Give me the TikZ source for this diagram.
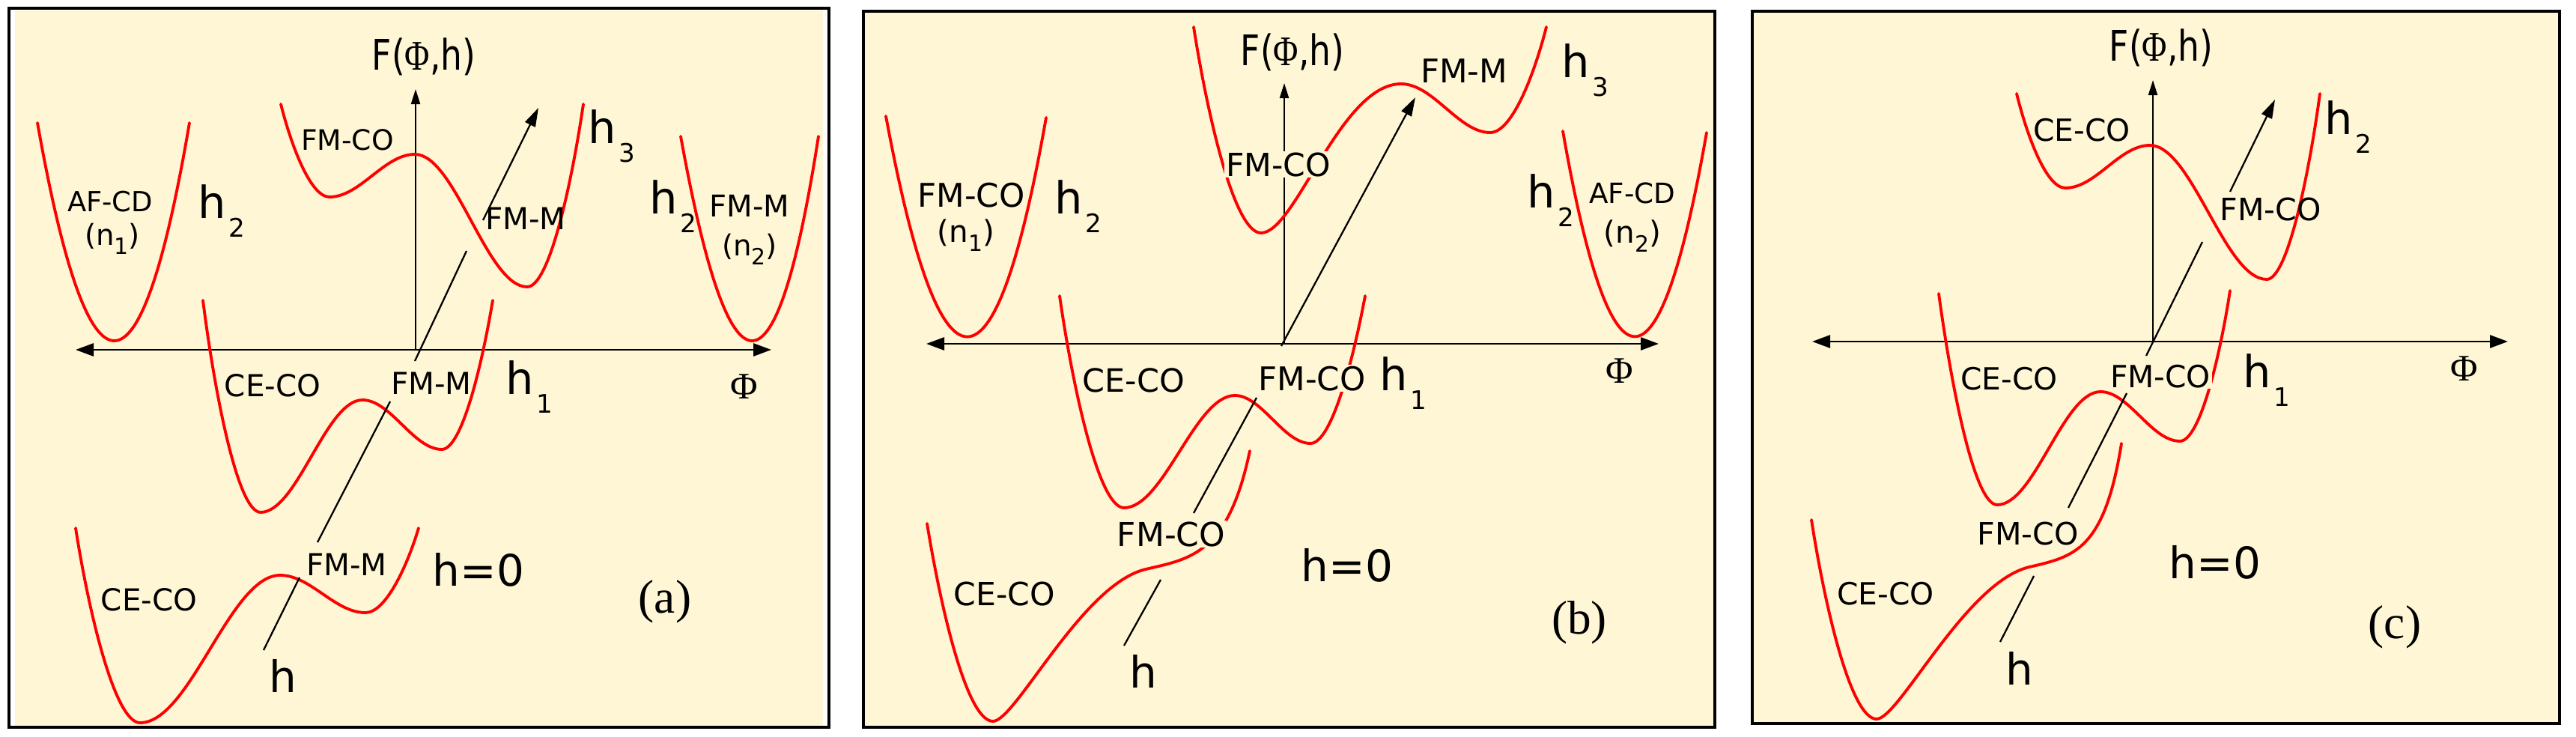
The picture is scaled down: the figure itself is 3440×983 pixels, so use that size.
\documentclass[tikz,border=0pt]{standalone}
\usepackage{fontspec}
\newfontfamily\lab{DejaVu Sans}
\newfontfamily\ser{Liberation Serif}
\usetikzlibrary{arrows.meta}
\definecolor{cream}{RGB}{255,246,213}
\definecolor{wellred}{RGB}{255,0,0}
\tikzset{
 frame/.style={draw=black, line width=0.4mm},
 well/.style={draw=wellred, line width=1.1pt, line cap=round},
 axis/.style={draw=black, line width=0.8pt, {Triangle[length=2.4mm,width=1.7mm]}-{Triangle[length=2.4mm,width=1.7mm]}},
 vaxis/.style={draw=black, line width=0.6pt, -{Triangle[length=2mm,width=1.2mm]}},
 hline/.style={draw=black, line width=0.65pt},
 harrow/.style={hline, -{Triangle[length=2.5mm,width=1.5mm]}},
 lbl/.style={font=\lab\fontsize{#1}{14}\selectfont, inner sep=0, anchor=base},
 lbl/.default=11.5,
 mask/.style={fill=cream, inner sep=0.5pt},
 hl/.style={font=\lab\fontsize{16.8}{18}\selectfont, inner sep=0, anchor=base west},
 big/.style={font=\lab\fontsize{16.5}{18}\selectfont, inner sep=0, anchor=base west},
 tag/.style={font=\ser\fontsize{18}{20}\selectfont, inner sep=0, anchor=base},
 phi/.style={font=\ser\fontsize{14.2}{15}\selectfont, inner sep=0, anchor=base},
 ftit/.style={font=\lab\fontsize{16}{18}\selectfont, inner sep=0, anchor=base},
}
\newcommand\hs[1]{h\kern0.3mm\raisebox{-2.5mm}{\fontsize{9.7}{10}\selectfont #1}}
\newcommand\nsub[1]{(n\raisebox{-1.2mm}{\fontsize{8.5}{9}\selectfont #1})}
\newcommand\ftitle{\scalebox{0.81}[1]{F({\ser Φ},h)}}
\begin{document}
\begin{tikzpicture}[x=0.1mm, y=-0.1mm]
\useasboundingbox (0,0) rectangle (3440,983);
% ---------- frames
\fill[white] (0,0) rectangle (3440,983);
\fill[cream] (20,14) rectangle (1099,969);
\draw[frame] (12,11) rectangle (1107,971);
\draw[frame, fill=cream] (1153,15) rectangle (2290,971);
\draw[frame, fill=cream] (2340,15) rectangle (3418,966);

% ================= panel (a)
\coordinate (aL) at (101,467); \coordinate (aR) at (1030,467);
\coordinate (aO) at (555,467); \coordinate (aT) at (555,119);
\draw[axis] (aL) -- (aR);
\draw[vaxis] (aO) -- (aT);
\draw[well] (50,164) .. controls (119,552) and (187,552) .. (253,164);
\draw[well] (909,182) .. controls (975,546) and (1036,546) .. (1093,182);
\draw[well] (375,139) .. controls (388,191) and (414,263) .. (440,263)
  .. controls (481,263) and (513,206) .. (554,206)
  .. controls (608,206) and (650,383) .. (704,383)
  .. controls (734,383) and (764,241) .. (779,139);
\draw[well] (271,401) .. controls (286,520) and (317,684) .. (348,684)
  .. controls (397,684) and (435,534) .. (484,534)
  .. controls (522,534) and (552,600) .. (590,600)
  .. controls (617,600) and (644,485) .. (658,401);
\draw[well] (101,705) .. controls (118,814) and (153,965) .. (187,965)
  .. controls (254,965) and (307,768) .. (374,768)
  .. controls (415,768) and (447,818) .. (488,818)
  .. controls (516,818) and (545,752) .. (559,705);
\coordinate (a1) at (352,868); \coordinate (a2) at (400,771);
\coordinate (a3) at (424,724); \coordinate (a4) at (521,536);
\coordinate (a5) at (554,482); \coordinate (a6) at (623,335);
\coordinate (a7) at (645,294); \coordinate (a8) at (719,144);
\draw[hline] (a1) -- (a2);
\draw[hline] (a3) -- (a4);
\draw[hline] (a5) -- (a6);
\draw[harrow] (a7) -- (a8);
\node[ftit] (aF) at (566,93) {\ftitle};
\node[lbl=10.7] (aFMCO) at (464,200) {FM-CO};
\node[lbl=10.5] (aAF) at (147,282) {AF-CD};
\node[lbl=11] (an1) at (150,327) {\nsub{1}};
\node[hl] (ah2l) at (264,291) {\hs{2}};
\node[hl] (ah3) at (785,191) {\hs{3}};
\node[lbl] (aFMM1) at (702,306) {FM-M};
\node[hl] (ah2r) at (867,285) {\hs{2}};
\node[lbl=11.4] (aFMM2) at (1001,289) {FM-M};
\node[lbl=11] (an2) at (1001,341) {\nsub{2}};
\node[lbl] (aCE1) at (364,529) {CE-CO};
\node[lbl] (aFMM3) at (576,526) {FM-M};
\node[hl] (ah1) at (675,526) {\hs{1}};
\node[phi] (aPhi) at (994,532) {Φ};
\node[lbl] (aCE2) at (199,815) {CE-CO};
\node[lbl] (aFMM4) at (463,768) {FM-M};
\node[big] (ah0) at (577,782) {h=0};
\node[tag] (atag) at (888,818) {(a)};
\node[big] (ah) at (359,924) {h};

% ================= panel (b)
\coordinate (bL) at (1237,459); \coordinate (bR) at (2215,459);
\coordinate (bO) at (1715,459); \coordinate (bT) at (1715,111);
\draw[axis] (bL) -- (bR);
\draw[vaxis] (bO) -- (bT);
\draw[well] (1183,155) .. controls (1256,547) and (1328,548) .. (1397,157);
\draw[well] (2087,175) .. controls (2151,540) and (2215,541) .. (2279,177);
\draw[well] (1594,36) .. controls (1612,151) and (1648,311) .. (1684,311)
  .. controls (1730,311) and (1790,112) .. (1871,112)
  .. controls (1914,112) and (1948,177) .. (1990,177)
  .. controls (2020,177) and (2050,95) .. (2065,36);
\draw[well] (1415,395) .. controls (1432,514) and (1467,678) .. (1501,678)
  .. controls (1554,678) and (1596,528) .. (1649,528)
  .. controls (1685,528) and (1714,592) .. (1750,592)
  .. controls (1779,592) and (1808,475) .. (1823,395);
\draw[well] (1238,699) .. controls (1256,810) and (1291,963) .. (1326,963)
  .. controls (1356,963) and (1445,780) .. (1530,760)
  .. controls (1590,746) and (1640,740) .. (1669,602);
\coordinate (b1) at (1501,862); \coordinate (b2) at (1550,774);
\coordinate (b3) at (1594,685); \coordinate (b4) at (1678,531);
\coordinate (b5) at (1711,462); \coordinate (b6) at (1890,130);
\draw[hline] (b1) -- (b2);
\draw[hline] (b3) -- (b4);
\draw[harrow] (b5) -- (b6);
\node[ftit] (bF) at (1726,87) {\ftitle};
\node[lbl=12.4] (bFMCOl) at (1297,276) {FM-CO};
\node[lbl=11.5] (bn1) at (1290,323) {\nsub{1}};
\node[hl] (bh2l) at (1408,285) {\hs{2}};
\node[lbl=12.1, mask] (bFMCOt) at (1707,235) {FM-CO};
\node[lbl=12.4] (bFMM) at (1955,110) {FM-M};
\node[hl] (bh3) at (2085,103) {\hs{3}};
\node[hl] (bh2r) at (2039,277) {\hs{2}};
\node[lbl=10.6] (bAF) at (2180,271) {AF-CD};
\node[lbl=11.5] (bn2) at (2180,324) {\nsub{2}};
\node[lbl=12.2] (bCE1) at (1514,523) {CE-CO};
\node[lbl=12.4, mask] (bFMCOm) at (1752,521) {FM-CO};
\node[hl] (bh1) at (1842,521) {\hs{1}};
\node[phi] (bPhi) at (2163,511) {Φ};
\node[lbl=12.5, mask] (bFMCOb) at (1564,729) {FM-CO};
\node[lbl=12.1] (bCE2) at (1341,808) {CE-CO};
\node[big] (bh0) at (1737,776) {h=0};
\node[tag] (btag) at (2109,846) {(b)};
\node[big] (bh) at (1508,918) {h};

% ================= panel (c)
\coordinate (cL) at (2420,456); \coordinate (cR) at (3349,456);
\coordinate (cO) at (2875,456); \coordinate (cT) at (2875,107);
\draw[axis] (cL) -- (cR);
\draw[vaxis] (cO) -- (cT);
\draw[well] (2693,125) .. controls (2706,178) and (2732,251) .. (2758,251)
  .. controls (2799,251) and (2830,194) .. (2871,194)
  .. controls (2927,194) and (2971,373) .. (3027,373)
  .. controls (3055,373) and (3084,229) .. (3098,125);
\draw[well] (2589,392) .. controls (2605,510) and (2636,674) .. (2667,674)
  .. controls (2717,674) and (2755,523) .. (2805,523)
  .. controls (2843,523) and (2873,589) .. (2911,589)
  .. controls (2938,589) and (2965,473) .. (2978,388);
\draw[well] (2419,694) .. controls (2436,804) and (2471,960) .. (2506,960)
  .. controls (2536,960) and (2625,777) .. (2710,757)
  .. controls (2770,743) and (2810,735) .. (2833,592);
\coordinate (c1) at (2671,857); \coordinate (c2) at (2716,769);
\coordinate (c3) at (2762,678); \coordinate (c4) at (2840,525);
\coordinate (c5) at (2866,475); \coordinate (c6) at (2941,323);
\coordinate (c7) at (2978,256); \coordinate (c8) at (3038,133);
\draw[hline] (c1) -- (c2);
\draw[hline] (c3) -- (c4);
\draw[hline] (c5) -- (c6);
\draw[harrow] (c7) -- (c8);
\node[ftit] (cF) at (2886,81) {\ftitle};
\node[lbl=11.6] (cCE1) at (2780,188) {CE-CO};
\node[hl] (ch2) at (3104,179) {\hs{2}};
\node[lbl=11.7] (cFMCOt) at (3032,294) {FM-CO};
\node[lbl=11.6] (cCE2) at (2683,520) {CE-CO};
\node[lbl=11.6, mask] (cFMCOm) at (2885,517) {FM-CO};
\node[hl] (ch1) at (2995,517) {\hs{1}};
\node[phi] (cPhi) at (3291,508) {Φ};
\node[lbl=11.7, mask] (cFMCOb) at (2708,727) {FM-CO};
\node[lbl=11.6] (cCE3) at (2518,807) {CE-CO};
\node[big] (ch0) at (2896,772) {h=0};
\node[tag] (ctag) at (3198,852) {(c)};
\node[big] (ch) at (2678,914) {h};
\end{tikzpicture}
\end{document}
